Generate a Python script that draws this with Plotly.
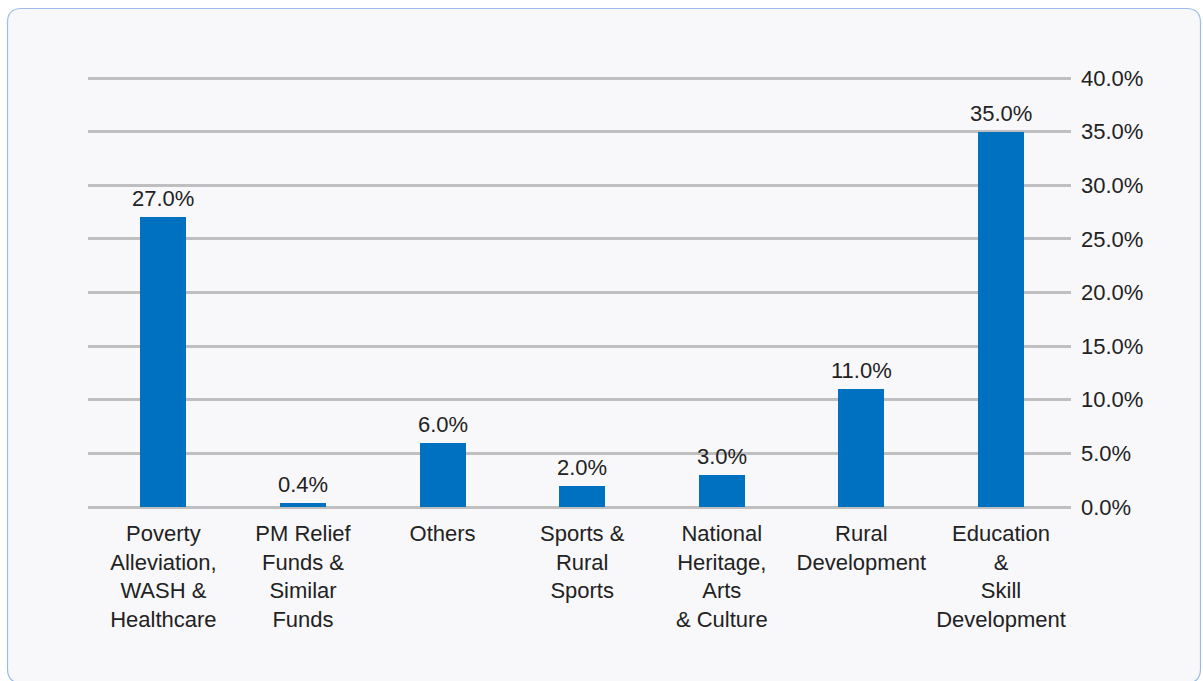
import plotly.graph_objects as go

# CSR spend share by development area (percent)
categories = [
    "Poverty<br>Alleviation,<br>WASH &<br>Healthcare",
    "PM Relief<br>Funds &<br>Similar<br>Funds",
    "Others",
    "Sports &<br>Rural<br>Sports",
    "National<br>Heritage,<br>Arts<br>& Culture",
    "Rural<br>Development",
    "Education<br>&<br>Skill<br>Development",
]
shares = [27.0, 0.4, 6.0, 2.0, 3.0, 11.0, 35.0]
y_ticks = [0, 5, 10, 15, 20, 25, 30, 35, 40]

W, H = 1203, 681
ML, MR, MT, MB = 88, 132, 75, 174
FONT = "Liberation Sans, Arial, sans-serif"
FS = 22
TEXT = "#222222"
GRID = "#BFBFBF"

x_pos = list(range(len(categories)))

fig = go.Figure(
    go.Bar(
        x=x_pos,
        y=shares,
        width=0.33,
        marker=dict(color="#0070C0", line=dict(width=0)),
        hoverinfo="skip",
    )
)

# value labels above each bar
for xi, v in zip(x_pos, shares):
    fig.add_annotation(
        x=xi,
        y=v,
        text=f"{v:.1f}%",
        showarrow=False,
        yanchor="bottom",
        yshift=4,
        font=dict(family=FONT, size=FS, color=TEXT),
    )

# rounded card behind the chart, drawn in paper units
pw, ph = W - ML - MR, H - MT - MB


def px(x):
    return (x - ML) / pw


def py(y):
    return (H - MB - y) / ph


x0, y0, x1, y1, r = 7.5, 8.5, 1200.5, 683, 14
path = (
    f"M {px(x0 + r)} {py(y0)} L {px(x1 - r)} {py(y0)} "
    f"Q {px(x1)} {py(y0)} {px(x1)} {py(y0 + r)} "
    f"L {px(x1)} {py(y1 - r)} Q {px(x1)} {py(y1)} {px(x1 - r)} {py(y1)} "
    f"L {px(x0 + r)} {py(y1)} Q {px(x0)} {py(y1)} {px(x0)} {py(y1 - r)} "
    f"L {px(x0)} {py(y0 + r)} Q {px(x0)} {py(y0)} {px(x0 + r)} {py(y0)} Z"
)
fig.add_shape(
    type="path",
    path=path,
    xref="paper",
    yref="paper",
    fillcolor="#F8F8FA",
    line=dict(color="#9BBCEA", width=1.2),
    layer="below",
)

unit = 139.6
first_center = 163.4
px_per_pct = 10.725
fig.update_layout(
    width=W,
    height=H,
    margin=dict(l=ML, r=MR, t=MT, b=MB, pad=0),
    paper_bgcolor="white",
    plot_bgcolor="rgba(0,0,0,0)",
    showlegend=False,
    bargap=0,
    font=dict(family=FONT, size=FS, color=TEXT),
    xaxis=dict(
        range=[-(first_center - ML) / unit, (W - MR - first_center) / unit],
        tickmode="array",
        tickvals=x_pos,
        ticktext=categories,
        showgrid=False,
        zeroline=False,
        showline=False,
        ticks="",
        tickfont=dict(family=FONT, size=FS, color=TEXT),
        ticklabelstandoff=11,
        fixedrange=True,
    ),
    yaxis=dict(
        side="right",
        range=[0, ph / px_per_pct],
        tickmode="array",
        tickvals=y_ticks,
        ticktext=[f"{v:.1f}%" for v in y_ticks],
        showgrid=True,
        gridcolor=GRID,
        gridwidth=3,
        zeroline=True,
        zerolinecolor=GRID,
        zerolinewidth=3,
        showline=False,
        ticks="",
        ticklabelstandoff=9,
        tickfont=dict(family=FONT, size=FS, color=TEXT),
        fixedrange=True,
    ),
)

fig.write_html("out.html", config={"displayModeBar": False})
